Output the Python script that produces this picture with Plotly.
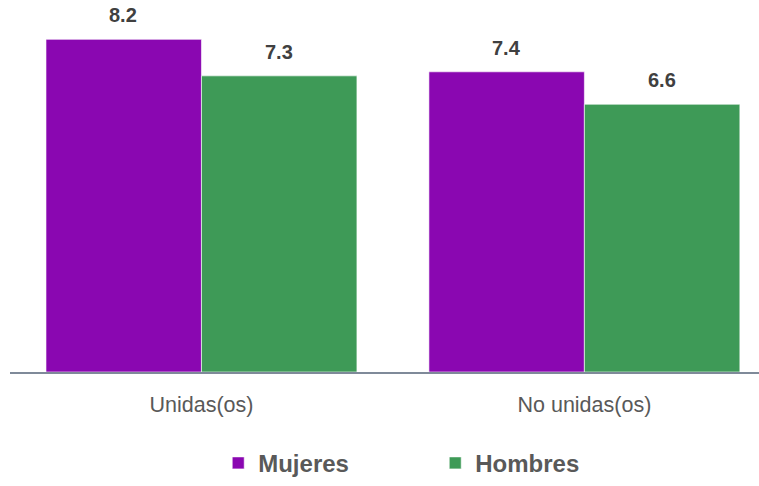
import plotly.graph_objects as go

categories = ["Unidas(os)", "No unidas(os)"]
series_names = ["Mujeres", "Hombres"]
mujeres = [8.2, 7.4]
hombres = [7.3, 6.6]
colors = ["#8A07B1", "#3E9A57"]

fig = go.Figure()
for name, vals, col in zip(series_names, [mujeres, hombres], colors):
    fig.add_trace(go.Bar(
        x=categories, y=vals, name=name,
        marker=dict(color=col, line=dict(color="rgba(255,255,255,0.6)", width=1)),
    ))

bar_shift = 78
for vals, sh in [(mujeres, -bar_shift), (hombres, bar_shift)]:
    for c, v in zip(categories, vals):
        fig.add_annotation(x=c, y=v, text=f"<b>{v:.1f}</b>", showarrow=False,
                           xshift=sh, yshift=24, yanchor="middle",
                           font=dict(family="Liberation Sans, Arial", size=20, color="#404040"))

fig.update_layout(
    width=759, height=486,
    margin=dict(l=10, r=0, t=0, b=107),
    plot_bgcolor="white", paper_bgcolor="white",
    barmode="group", bargap=0.188, bargroupgap=0,
    showlegend=True,
    legend=dict(orientation="h", x=0.278, xanchor="left", y=-0.2454, yanchor="middle",
                font=dict(family="Liberation Sans, Arial", size=24, color="#595959", weight="bold"),
                entrywidth=172, entrywidthmode="pixels", itemwidth=30),
    xaxis=dict(range=[-0.5, 1.456], showline=True, linecolor="#7F8A99", linewidth=2,
               ticks="", ticklabelstandoff=12,
               tickfont=dict(family="Liberation Sans, Arial", size=21.5, color="#595959"),
               showgrid=False),
    yaxis=dict(range=[0, 9.17], visible=False, showgrid=False),
)

fig.write_html("out.html", config={"displayModeBar": False},
               post_script="document.body.style.margin='0px';")
